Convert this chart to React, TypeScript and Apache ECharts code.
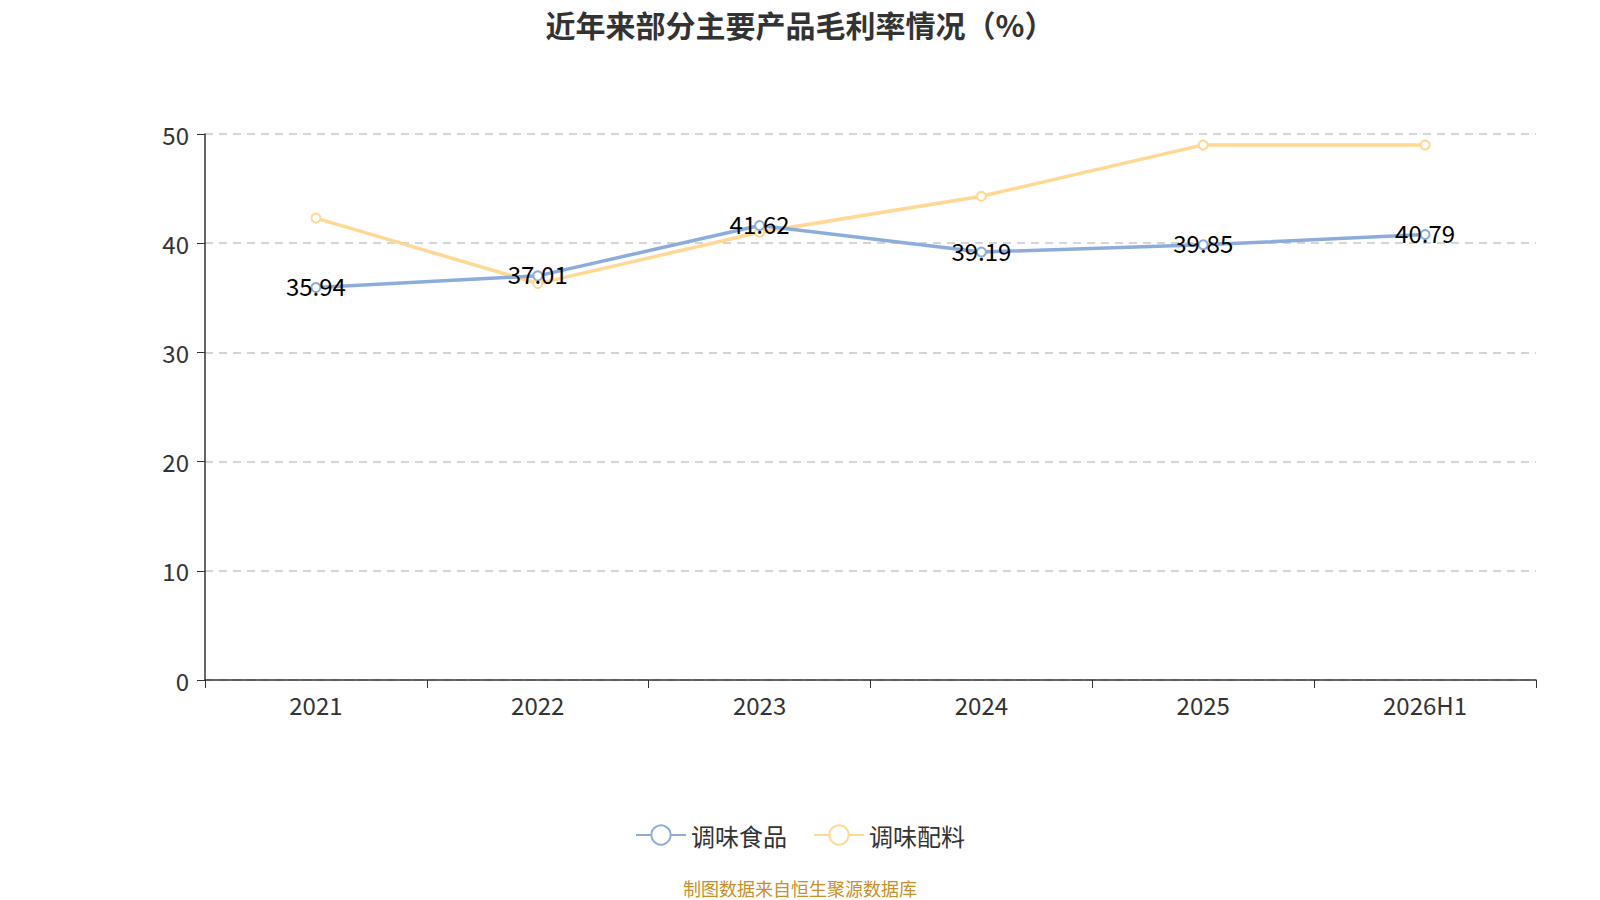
import React, { useEffect, useRef } from "react";
import * as echarts from "echarts";

const categories = ["2021", "2022", "2023", "2024", "2025", "2026H1"];
const seasoningFood = [35.94, 37.01, 41.62, 39.19, 39.85, 40.79];
const seasoningIngredients = [42.3, 36.3, 41.0, 44.3, 49.0, 49.0];
const seriesNames = ["调味食品", "调味配料"];
const titleText = "近年来部分主要产品毛利率情况（%）";
const sourceText = "制图数据来自恒生聚源数据库";

export default function App() {
  const ref = useRef<HTMLDivElement>(null);
  useEffect(() => {
    if (!ref.current) return;
    const chart = echarts.init(ref.current, undefined, { renderer: "svg" });
    const font = "'Noto Sans CJK SC', 'Noto Sans', sans-serif";
    chart.setOption({
      animation: false,
      textStyle: { fontFamily: font },
      title: {
        text: titleText,
        left: "center",
        top: 0,
        padding: [0, 0, 0, 0],
        textStyle: {
          fontSize: 30,
          lineHeight: 32,
          fontWeight: "bold",
          color: "#333",
          fontFamily: font,
        },
      },
      legend: {
        data: seriesNames,
        bottom: 48,
        left: "center",
        itemWidth: 50,
        itemHeight: 24,
        itemGap: 26,
        textStyle: { fontSize: 24, color: "#333", fontFamily: font },
      },
      graphic: [
        {
          type: "text",
          left: "center",
          top: 871,
          style: { text: sourceText, fontSize: 18, fill: "#C8902A", fontFamily: font },
        },
      ],
      grid: { left: 197, right: 56, top: 126, bottom: 220 },
      xAxis: {
        type: "category",
        data: categories,
        boundaryGap: true,
        axisLine: { lineStyle: { color: "#333", width: 1.5 } },
        axisTick: { show: true, length: 8, lineStyle: { color: "#333" } },
        axisLabel: { fontSize: 24, color: "#333", margin: 12, fontFamily: font },
      },
      yAxis: {
        type: "value",
        min: 0,
        max: 50,
        interval: 10,
        axisLine: { show: true, lineStyle: { color: "#333", width: 1.5 } },
        axisTick: { show: true, length: 8, lineStyle: { color: "#333" } },
        axisLabel: { fontSize: 24, color: "#333", margin: 16, fontFamily: font },
        splitLine: { lineStyle: { type: [8, 6], color: "#c8c8c8", width: 1.5 } },
      },
      series: [
        {
          name: seriesNames[0],
          type: "line",
          data: seasoningFood,
          symbol: "emptyCircle",
          symbolSize: 9,
          color: "#8CADDB",
          lineStyle: { width: 3.5, color: "#8CADDB" },
          label: {
            show: true,
            position: "inside",
            offset: [0, -2],
            fontSize: 24,
            color: "#000",
            fontFamily: font,
          },
          z: 3,
        },
        {
          name: seriesNames[1],
          type: "line",
          data: seasoningIngredients,
          symbol: "emptyCircle",
          symbolSize: 9,
          color: "#FFD894",
          lineStyle: { width: 3.5, color: "#FFD894" },
          label: { show: false },
          z: 2,
        },
      ],
    });
    return () => chart.dispose();
  }, []);
  return <div ref={ref} style={{ width: 1584, height: 892 }} />;
}
